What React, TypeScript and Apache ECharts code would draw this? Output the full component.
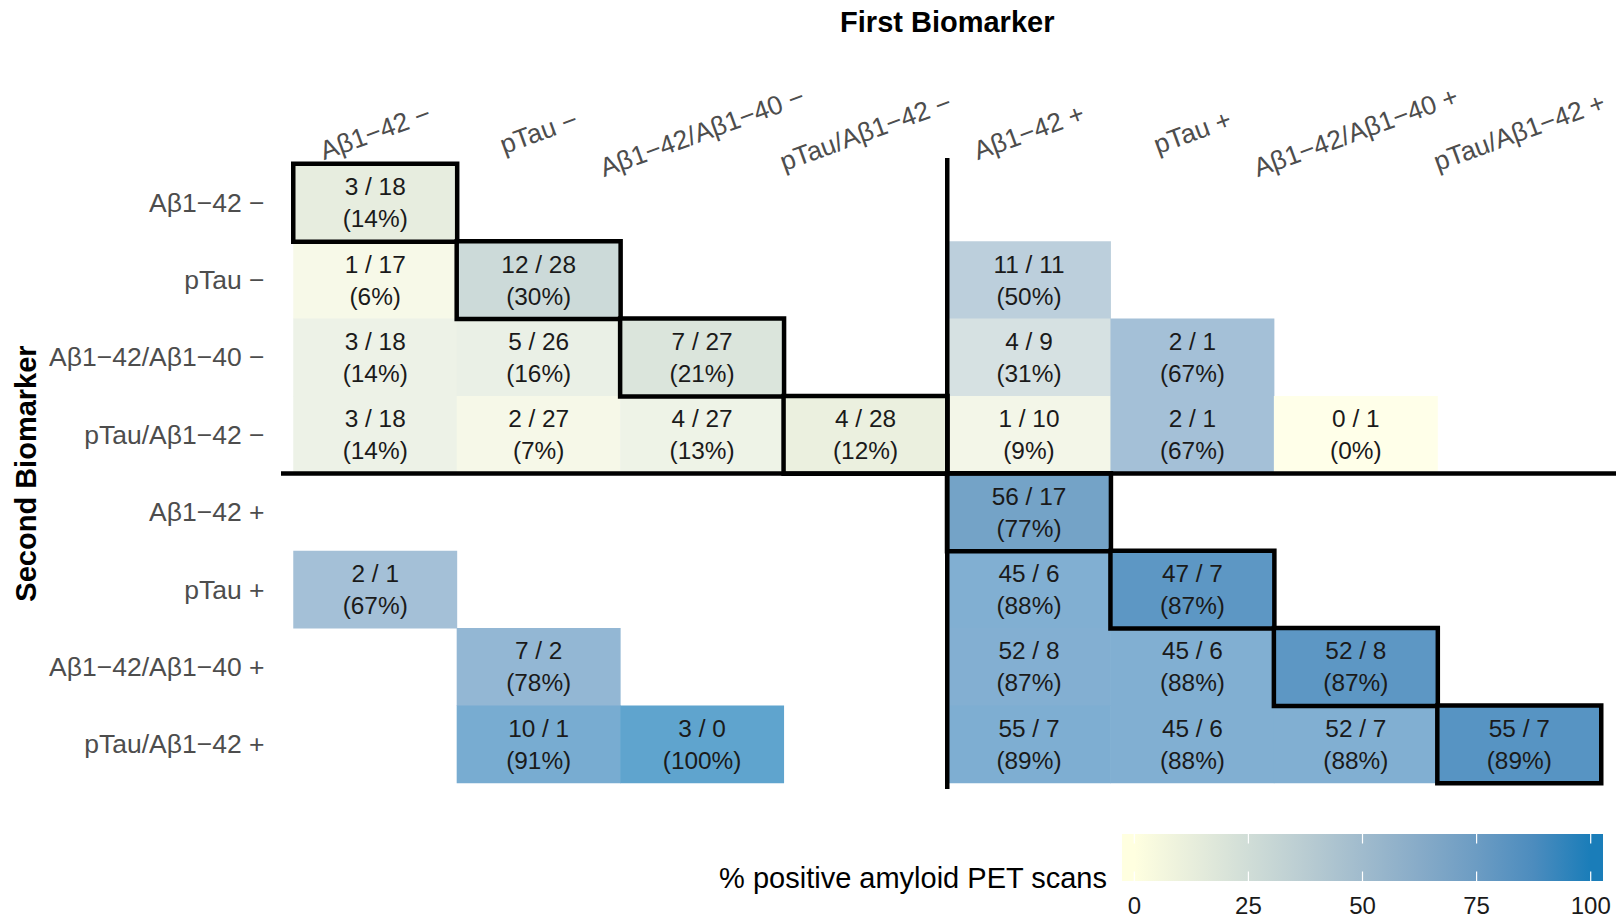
import React, { useEffect, useRef } from "react";
import * as echarts from "echarts";

// Biomarker categories (both axes share them)
const markers = [
  "Aβ1−42 −",
  "pTau −",
  "Aβ1−42/Aβ1−40 −",
  "pTau/Aβ1−42 −",
  "Aβ1−42 +",
  "pTau +",
  "Aβ1−42/Aβ1−40 +",
  "pTau/Aβ1−42 +",
];

// Cells: first-biomarker index (x), second-biomarker index (y), positive / negative counts, percent positive
const cellFirst = [0, 0, 1, 4, 0, 1, 2, 4, 5, 0, 1, 2, 3, 4, 5, 6, 4, 0, 4, 5, 1, 4, 5, 6, 1, 2, 4, 5, 6, 7];
const cellSecond = [0, 1, 1, 1, 2, 2, 2, 2, 2, 3, 3, 3, 3, 3, 3, 3, 4, 5, 5, 5, 6, 6, 6, 6, 7, 7, 7, 7, 7, 7];
const cellPositive = [3, 1, 12, 11, 3, 5, 7, 4, 2, 3, 2, 4, 4, 1, 2, 0, 56, 2, 45, 47, 7, 52, 45, 52, 10, 3, 55, 45, 52, 55];
const cellNegative = [18, 17, 28, 11, 18, 26, 27, 9, 1, 18, 27, 27, 28, 10, 1, 1, 17, 1, 6, 7, 2, 8, 6, 8, 1, 0, 7, 6, 7, 7];
const cellPercent = [14, 6, 30, 50, 14, 16, 21, 31, 67, 14, 7, 13, 12, 9, 67, 0, 77, 67, 88, 87, 78, 87, 88, 87, 91, 100, 89, 88, 88, 89];

const legendTicks = [0, 25, 50, 75, 100];

// colour ramp (lightyellow -> blue, Lab-like steps), and the same ramp at two opacities over white
const rampFull = ["#FFFFE0", "#E8EEDC", "#D0DDD7", "#B9CCD2", "#A0BBCD", "#87ABC8", "#6C9CC3", "#4C8CBE", "#1A7DB9"];
const rampOff = ["#FFFFE9", "#EFF3E7", "#DEE7E3", "#CEDBE0", "#BCCFDC", "#ABC4D8", "#98BAD5", "#82AFD2", "#5FA4CE"];
const rampDiag = ["#FFFFE3", "#EAEFDF", "#D4E0DB", "#BFD1D6", "#A9C1D2", "#92B3CD", "#79A5C8", "#5C96C4", "#2F89BF"];

const FONT = "'Liberation Sans', Arial, Helvetica, sans-serif";

export default function App() {
  const ref = useRef<HTMLDivElement>(null);

  useEffect(() => {
    if (!ref.current) return;
    const chart = echarts.init(ref.current, null, { renderer: "svg" });

    const offData: any[] = [];
    const diagData: any[] = [];
    for (let i = 0; i < cellFirst.length; i++) {
      const item = { value: [cellFirst[i], cellSecond[i], cellPercent[i], cellPositive[i], cellNegative[i]] };
      if (cellFirst[i] === cellSecond[i]) diagData.push(item);
      else offData.push(item);
    }

    const gridLeft = 293.5;
    const gridTop = 164;
    const gridWidth = 1307.5;
    const gridHeight = 619;

    const labelFmt = (p: any) => `${p.value[3]} / ${p.value[4]}\n(${p.value[2]}%)`;
    const labelStyle = {
      show: true,
      formatter: labelFmt,
      color: "#1A1A1A",
      fontSize: 24.4,
      lineHeight: 32,
      fontFamily: FONT,
    };

    chart.setOption({
      animation: false,
      backgroundColor: "#FFFFFF",
      grid: { left: gridLeft, top: gridTop, width: gridWidth, height: gridHeight },
      xAxis: {
        type: "category",
        data: markers,
        position: "top",
        axisLine: { show: false },
        axisTick: { show: false },
        splitLine: { show: false },
        axisLabel: {
          interval: 0,
          rotate: -20,
          margin: 32,
          align: "center",
          verticalAlign: "middle",
          color: "#4D4D4D",
          fontSize: 26.5,
          fontFamily: FONT,
        },
      },
      yAxis: {
        type: "category",
        data: markers,
        inverse: true,
        axisLine: { show: false },
        axisTick: { show: false },
        splitLine: { show: false },
        axisLabel: {
          interval: 0,
          margin: 29,
          color: "#4D4D4D",
          fontSize: 26.5,
          fontFamily: FONT,
          verticalAlign: "middle",
          padding: [0, 0, 4, 0],
        },
      },
      visualMap: [
        {
          show: false,
          type: "continuous",
          min: 0,
          max: 100,
          dimension: 2,
          seriesIndex: 0,
          inRange: { color: rampOff },
        },
        {
          show: false,
          type: "continuous",
          min: 0,
          max: 100,
          dimension: 2,
          seriesIndex: 1,
          inRange: { color: rampDiag },
        },
      ],
      series: [
        {
          type: "heatmap",
          data: offData,
          label: labelStyle,
          itemStyle: { borderWidth: 0 },
          emphasis: { disabled: true },
          z: 2,
        },
        {
          type: "heatmap",
          data: diagData,
          label: labelStyle,
          itemStyle: { borderColor: "#000000", borderWidth: 4.5 },
          emphasis: { disabled: true },
          z: 3,
        },
      ],
    });

    // separator lines + titles + colour bar legend
    const p3 = chart.convertToPixel({ gridIndex: 0 }, [3, 3]) as number[];
    const p4 = chart.convertToPixel({ gridIndex: 0 }, [4, 4]) as number[];
    const midX = (p3[0] + p4[0]) / 2;
    const midY = (p3[1] + p4[1]) / 2;
    const gridRight = gridLeft + gridWidth;
    const gridBottom = gridTop + gridHeight;

    // colour bar geometry
    const barX0 = 1122;
    const barX1 = 1603;
    const barTop = 834;
    const barBottom = 881;
    const v0x = 1134.3;
    const v100x = 1590.7;
    const vx = (v: number) => v0x + ((v100x - v0x) * v) / 100;
    const barW = barX1 - barX0;
    const colorStops = rampFull.map((c, i) => ({
      offset: (vx((100 * i) / (rampFull.length - 1)) - barX0) / barW,
      color: c,
    }));
    colorStops.unshift({ offset: 0, color: rampFull[0] });
    colorStops.push({ offset: 1, color: rampFull[rampFull.length - 1] });

    const graphics: any[] = [
      {
        type: "line",
        shape: { x1: midX, y1: gridTop - 6, x2: midX, y2: gridBottom + 6 },
        style: { stroke: "#000000", lineWidth: 4.5 },
        z: 10,
      },
      {
        type: "line",
        shape: { x1: gridLeft - 12.5, y1: midY, x2: gridRight + 15, y2: midY },
        style: { stroke: "#000000", lineWidth: 4.5 },
        z: 10,
      },
      {
        type: "text",
        x: gridLeft + gridWidth / 2,
        y: 22,
        style: {
          text: "First Biomarker",
          fontSize: 29,
          fontWeight: "bold",
          fontFamily: FONT,
          fill: "#000000",
          textAlign: "center",
          textVerticalAlign: "middle",
        },
      },
      {
        type: "text",
        x: 26,
        y: gridTop + gridHeight / 2,
        rotation: Math.PI / 2,
        style: {
          text: "Second Biomarker",
          fontSize: 29,
          fontWeight: "bold",
          fontFamily: FONT,
          fill: "#000000",
          textAlign: "center",
          textVerticalAlign: "middle",
        },
      },
      {
        type: "rect",
        shape: { x: barX0, y: barTop, width: barW, height: barBottom - barTop },
        style: {
          fill: { type: "linear", x: 0, y: 0, x2: 1, y2: 0, colorStops },
        },
      },
      {
        type: "text",
        x: 1107,
        y: 878,
        style: {
          text: "% positive amyloid PET scans",
          fontSize: 29,
          fontFamily: FONT,
          fill: "#000000",
          textAlign: "right",
          textVerticalAlign: "middle",
        },
      },
    ];
    legendTicks.forEach((t) => {
      const x = vx(t);
      graphics.push(
        {
          type: "line",
          shape: { x1: x, y1: barTop, x2: x, y2: barTop + 9.5 },
          style: { stroke: "#FFFFFF", lineWidth: 1.2 },
          z: 5,
        },
        {
          type: "line",
          shape: { x1: x, y1: barBottom - 9.5, x2: x, y2: barBottom },
          style: { stroke: "#FFFFFF", lineWidth: 1.2 },
          z: 5,
        },
        {
          type: "text",
          x,
          y: 905,
          style: {
            text: String(t),
            fontSize: 24,
            lineHeight: 20,
            fontFamily: FONT,
            fill: "#1A1A1A",
            textAlign: "center",
            textVerticalAlign: "middle",
          },
        }
      );
    });

    chart.setOption({ graphic: graphics });

    return () => chart.dispose();
  }, []);

  return (
    <div
      ref={ref}
      style={{ position: "absolute", left: 0, top: 0, width: 1619, height: 917, background: "#FFFFFF" }}
    />
  );
}
